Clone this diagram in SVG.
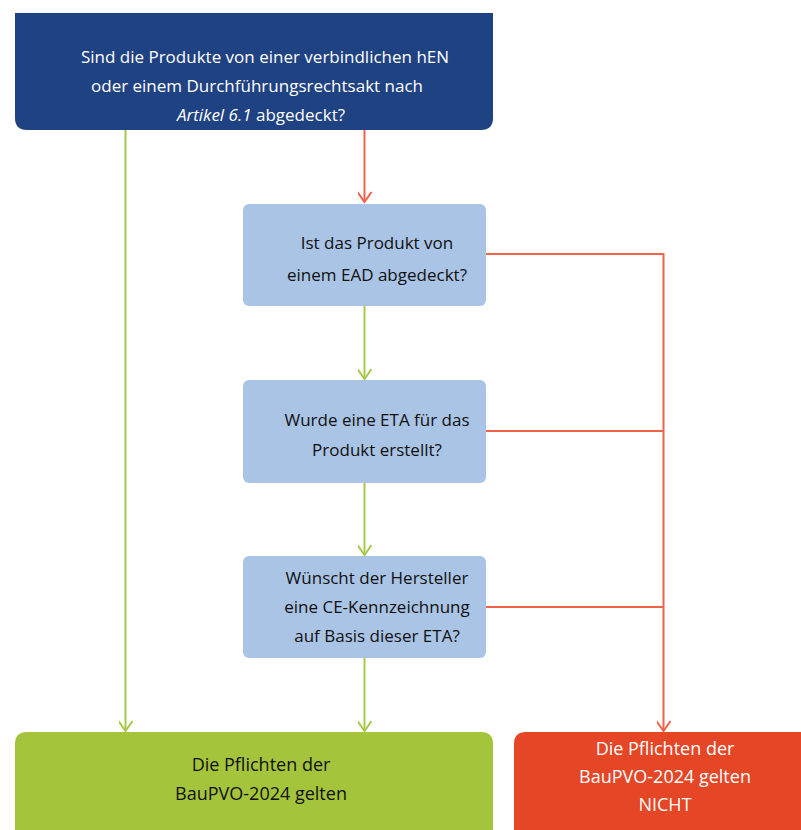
<svg xmlns="http://www.w3.org/2000/svg" width="801" height="830" viewBox="0 0 801 830">
<style>
.t{font-family:"Open Sans","Noto Sans","Liberation Sans",sans-serif;font-size:17px;text-anchor:middle}
.w{fill:#ffffff}
.k{fill:#111111}
.n{font-family:"Open Sans","Liberation Sans",sans-serif;font-size:18px;text-anchor:middle}
.q{fill:#a9c4e5}
.g{stroke:#a6c84a;stroke-width:2;fill:none}
.r{stroke:#f0624a;stroke-width:2;fill:none}
</style>
<defs>
<marker id="ag" markerWidth="14" markerHeight="14" refX="11" refY="7" orient="auto" markerUnits="userSpaceOnUse">
<path d="M1,0 L11,7 L1,14" fill="none" stroke="#a6c84a" stroke-width="2"/>
</marker>
<marker id="ar" markerWidth="14" markerHeight="14" refX="11" refY="7" orient="auto" markerUnits="userSpaceOnUse">
<path d="M1,0 L11,7 L1,14" fill="none" stroke="#f0624a" stroke-width="2"/>
</marker>
</defs>
<rect width="801" height="830" fill="#ffffff"/>
<g id="connectors">
<path class="g" d="M125.5,130 V731" marker-end="url(#ag)"/>
<path class="r" d="M364.5,130 V202" marker-end="url(#ar)"/>
<path class="g" d="M364.5,306 V379" marker-end="url(#ag)"/>
<path class="g" d="M364.5,483 V555" marker-end="url(#ag)"/>
<path class="g" d="M364.5,658 V731" marker-end="url(#ag)"/>
<path class="r" d="M486,254 H663.5 V731" marker-end="url(#ar)"/>
<path class="r" d="M486,431 H663.5"/>
<path class="r" d="M486,607 H663.5"/>
</g>
<g id="n0">
<path d="M15,13 H493 V118 Q493,130 481,130 H27 Q15,130 15,118 Z" fill="#1f4283"/>
<text class="t w" x="265" y="63">Sind die Produkte von einer verbindlichen hEN</text>
<text class="t w" x="257" y="92">oder einem Durchführungsrechtsakt nach</text>
<text class="t w" x="261" y="121"><tspan font-style="italic">Artikel 6.1</tspan> abgedeckt?</text>
</g>
<g id="n1">
<rect class="q" x="243" y="204" width="243" height="102" rx="6"/>
<text class="t k" x="377" y="249">Ist das Produkt von</text>
<text class="t k" x="377" y="281">einem EAD abgedeckt?</text>
</g>
<g id="n2">
<rect class="q" x="243" y="380" width="243" height="103" rx="6"/>
<text class="t k" x="377" y="426">Wurde eine ETA für das</text>
<text class="t k" x="377" y="456">Produkt erstellt?</text>
</g>
<g id="n3">
<rect class="q" x="243" y="556" width="243" height="102" rx="6"/>
<text class="t k" x="377" y="584">Wünscht der Hersteller</text>
<text class="t k" x="377" y="613">eine CE-Kennzeichnung</text>
<text class="t k" x="377" y="642">auf Basis dieser ETA?</text>
</g>
<g id="n4">
<path d="M15,830 V744 Q15,732 27,732 H481 Q493,732 493,744 V830 Z" fill="#a4c43b"/>
<text class="n k" x="261" y="771">Die Pflichten der</text>
<text class="n k" x="261" y="800">BauPVO-2024 gelten</text>
</g>
<g id="n5">
<path d="M514,830 V744 Q514,732 526,732 H801 V830 Z" fill="#e54626"/>
<text class="n w" x="665" y="755">Die Pflichten der</text>
<text class="n w" x="665" y="783">BauPVO-2024 gelten</text>
<text class="n w" x="665" y="811">NICHT</text>
</g>
</svg>
